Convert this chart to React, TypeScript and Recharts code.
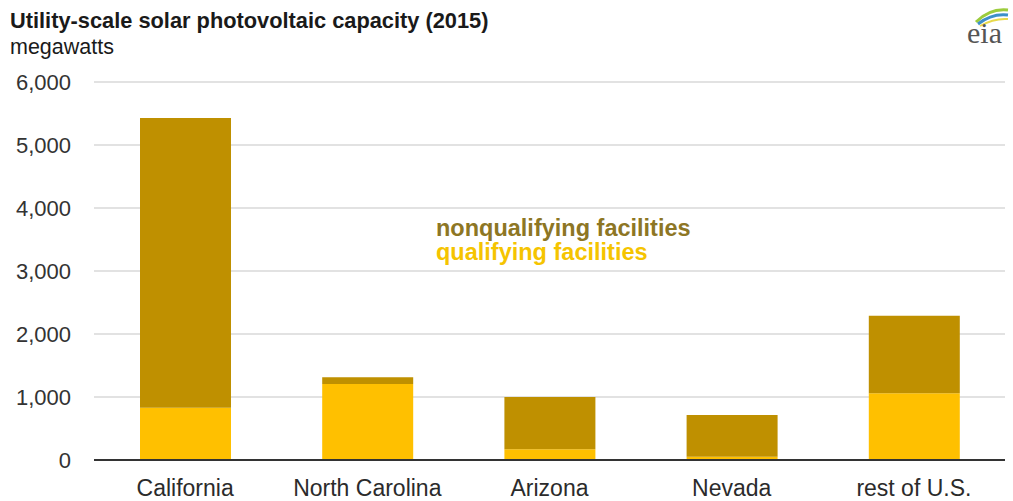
import React from 'react';
import { BarChart, Bar, XAxis, YAxis, CartesianGrid } from 'recharts';

const states = ['California', 'North Carolina', 'Arizona', 'Nevada', 'rest of U.S.'];
const qualifying = [830, 1205, 170, 50, 1060];
const nonqualifying = [4600, 110, 830, 665, 1230];
const yTicks = [0, 1000, 2000, 3000, 4000, 5000, 6000];

const data = states.map((state, i) => ({
  state,
  qualifying: qualifying[i],
  nonqualifying: nonqualifying[i],
}));

const font = '"Liberation Sans", Arial, sans-serif';
const fmt = (v: number) => v.toLocaleString('en-US');

const App = () => {
  return (
    <div style={{ position: 'absolute', left: 0, top: 0, width: 1013, height: 501, background: '#fff', fontFamily: font }}>
      <BarChart
        width={1013}
        height={501}
        data={data}
        margin={{ top: 82, right: 8, bottom: 0, left: 0 }}
        barSize={91}
      >
        <CartesianGrid vertical={false} stroke="#d9d9d9" strokeWidth={1.5} />
        <XAxis
          dataKey="state"
          height={41}
          tickLine={false}
          tickSize={0}
          tickMargin={20}
          axisLine={{ stroke: '#333', strokeWidth: 2 }}
          tick={{ fontSize: 23, fill: '#2b2b2b', fontFamily: font }}
          interval={0}
        />
        <YAxis
          width={94}
          domain={[0, 6000]}
          ticks={yTicks}
          tickFormatter={fmt}
          axisLine={false}
          tickLine={false}
          tickSize={0}
          tickMargin={23}
          tick={{ fontSize: 22, fill: '#333', fontFamily: font }}
        />
        <Bar dataKey="qualifying" stackId="a" fill="#FFC000" isAnimationActive={false} />
        <Bar dataKey="nonqualifying" stackId="a" fill="#BF9000" isAnimationActive={false} />
      </BarChart>
      <svg
        width={1013}
        height={501}
        style={{ position: 'absolute', left: 0, top: 0, pointerEvents: 'none' }}
      >
        <text x={10} y={27.5} fontSize={21.8} fontWeight="bold" fill="#1a1a1a" fontFamily={font}>
          Utility-scale solar photovoltaic capacity (2015)
        </text>
        <text x={10} y={54} fontSize={21.5} fill="#1a1a1a" fontFamily={font}>
          megawatts
        </text>
        <text x={436} y={236} fontSize={23.5} fontWeight="bold" fill="#8d7624" fontFamily={font}>
          nonqualifying facilities
        </text>
        <text x={436} y={260} fontSize={23.5} fontWeight="bold" fill="#f5c400" fontFamily={font}>
          qualifying facilities
        </text>
        {/* eia logo */}
        <path d="M976 22 Q990 8 1008 10" stroke="#9ccc3c" strokeWidth={3} fill="none" />
        <path d="M978 24 Q992 13 1008 15" stroke="#3d8fc9" strokeWidth={3} fill="none" />
        <path d="M980 26 Q994 18 1008 19" stroke="#e8d94a" strokeWidth={2} fill="none" />
        <text x={967} y={43} fontSize={30} fill="#555" fontFamily='"Liberation Serif", serif'>
          eia
        </text>
      </svg>
    </div>
  );
};

export default App;
